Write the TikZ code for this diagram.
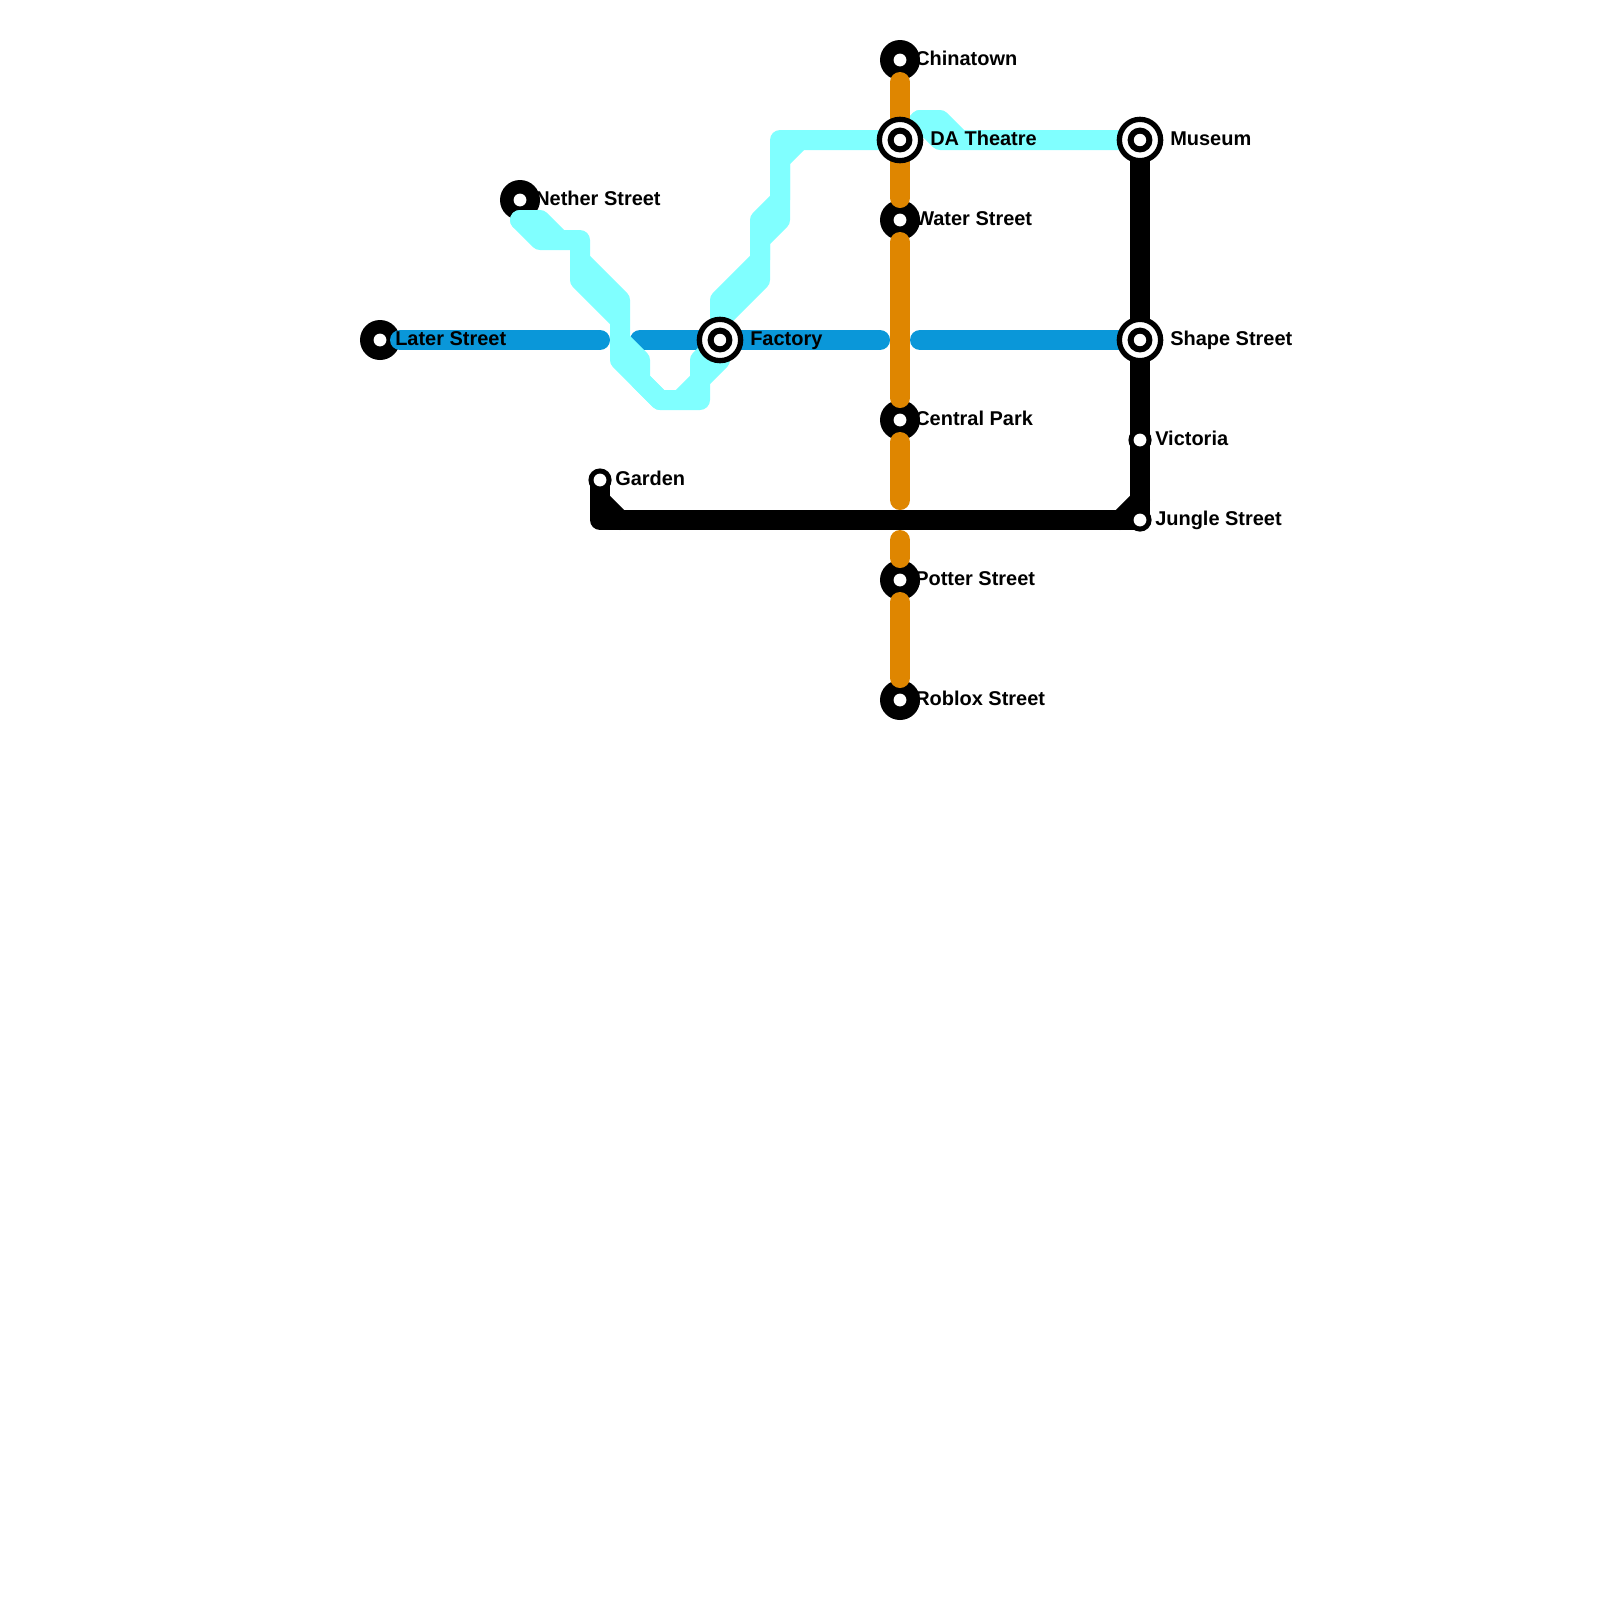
\documentclass[tikz,border=0pt]{standalone}
\usepackage{fontspec}
\setmainfont{Liberation Sans}
\usepackage{xcolor}
\usepackage{tikz}

\definecolor{bluelinecol}{HTML}{0A97D9}
\definecolor{cyanlinecol}{HTML}{80FFFF}
\definecolor{orangelinecol}{HTML}{DF8600}

\tikzset{
  metroline/.style={line width=0.5cm, line cap=round, line join=round},
  blueline/.style={metroline, draw=bluelinecol},
  cyanline/.style={metroline, draw=cyanlinecol},
  orangeline/.style={metroline, draw=orangelinecol},
  blackline/.style={metroline, draw=black},
  bigstop/.style={circle, fill=black, inner sep=0pt, minimum size=1cm},
  smallstop/.style={circle, fill=black, inner sep=0pt, minimum size=0.58cm},
  whitedot/.style={circle, fill=white, inner sep=0pt, minimum size=0.32cm},
  changeouter/.style={circle, draw=black, fill=white, line width=0.1325cm, inner sep=0pt, minimum size=1.0325cm},
  changeinner/.style={circle, draw=black, fill=white, line width=0.15cm, inner sep=0pt, minimum size=0.47cm},
  stoplabel/.style={anchor=base west, inner sep=0pt, font=\fontsize{14.2}{16}\selectfont\bfseries}
}

\begin{document}
\begin{tikzpicture}[x=0.5cm, y=-0.5cm]
\useasboundingbox (0,0) rectangle (80,80);

% Haltes onder de lijnen
\node[bigstop] (later) at (19,17) {};
\node[bigstop] (nether) at (26,10) {};
\node[bigstop] (chinatown) at (45,3) {};
\node[bigstop] (water) at (45,11) {};
\node[bigstop] (central) at (45,21) {};
\node[bigstop] (potter) at (45,29) {};
\node[bigstop] (roblox) at (45,35) {};
\node[smallstop] (garden) at (30,24) {};
\node[smallstop] (victoria) at (57,22) {};
\node[smallstop] (jungle) at (57,26) {};

\coordinate (factory) at (36,17);
\coordinate (theatre) at (45,7);
\coordinate (museum) at (57,7);
\coordinate (shape) at (57,17);

% Knikpunten
\foreach \x/\y in {26/11, 27/11, 27/12, 28/12, 29/12, 29/13, 29/14, 31/15, 31/16, 31/17, 31/18, 32/18,
    32/19, 33/20, 34/20, 35/18, 35/19, 35/20, 36/15, 36/16, 36/18, 38/11, 38/12, 38/13, 38/14,
    39/7, 39/8, 39/10, 39/11, 40/7, 46/6, 47/6, 47/7, 48/7}
  \coordinate (b\x-\y) at (\x,\y);
\foreach \x/\y in {20/17, 30/17, 32/17, 44/17, 46/17, 30/25, 30/26, 31/26, 56/26, 57/25}
  \coordinate (e\x-\y) at (\x,\y);
\foreach \n/\y in {a/4.1, b/9.9, c/12.1, d/19.9, e/22.1, f/25, g/27, h/27.9, i/30.1, j/33.9}
  \coordinate (o\n) at (45,\y);

% Blauwe lijn
\draw[blueline] (e20-17) -- (e30-17);
\draw[blueline] (e32-17) -- (e44-17);
\draw[blueline] (e46-17) -- (shape);

% Zwarte lijn
\draw[blackline] (museum) -- (jungle.center) -- (e30-26) -- (garden.center);
\draw[blackline] (e30-25) -- (e31-26);
\draw[blackline] (e56-26) -- (e57-25);

% Cyaan lijn
\draw[cyanline] (b26-11) -- (b27-11) -- (b28-12) -- (b29-12) -- (b29-14) -- (b31-16) -- (b31-18)
    -- (b33-20) -- (b35-20) -- (b35-18) -- (factory) -- (b36-15) -- (b38-13) -- (b38-11) -- (b39-10)
    -- (b39-7) -- (theatre) -- (b46-6) -- (b47-6) -- (b48-7) -- (museum);
\draw[cyanline] (b26-11) -- (b27-12) -- (b28-12);
\draw[cyanline] (b29-13) -- (b31-15) -- (b31-16);
\draw[cyanline] (b31-17) -- (b32-18) -- (b32-19) -- (b33-20);
\draw[cyanline] (b34-20) -- (b36-18);
\draw[cyanline] (b36-16) -- (b38-14) -- (b38-12) -- (b39-11) -- (b39-8) -- (b40-7);
\draw[cyanline] (b46-6) -- (b47-7) -- (b48-7);

% Oranje lijn
\draw[orangeline] (oa) -- (ob);
\draw[orangeline] (oc) -- (od);
\draw[orangeline] (oe) -- (of);
\draw[orangeline] (og) -- (oh);
\draw[orangeline] (oi) -- (oj);

% Witte stippen
\node[whitedot] (laterdot) at (later) {};
\node[whitedot] (netherdot) at (nether) {};
\node[whitedot] (chinatowndot) at (chinatown) {};
\node[whitedot] (waterdot) at (water) {};
\node[whitedot] (centraldot) at (central) {};
\node[whitedot] (potterdot) at (potter) {};
\node[whitedot] (robloxdot) at (roblox) {};
\node[whitedot] (gardendot) at (garden) {};
\node[whitedot] (victoriadot) at (victoria) {};
\node[whitedot] (jungledot) at (jungle) {};

% Overstappunten
\node[changeouter] (factoryouter) at (factory) {};
\node[changeinner] (factoryinner) at (factory) {};
\node[changeouter] (theatreouter) at (theatre) {};
\node[changeinner] (theatreinner) at (theatre) {};
\node[changeouter] (museumouter) at (museum) {};
\node[changeinner] (museuminner) at (museum) {};
\node[changeouter] (shapeouter) at (shape) {};
\node[changeinner] (shapeinner) at (shape) {};

% Namen
\node[stoplabel] (laterlabel) at (19.75,17.25) {Later Street};
\node[stoplabel] (netherlabel) at (26.75,10.25) {Nether Street};
\node[stoplabel] (gardenlabel) at (30.75,24.25) {Garden};
\node[stoplabel] (factorylabel) at (37.5,17.25) {Factory};
\node[stoplabel] (chinatownlabel) at (45.75,3.25) {Chinatown};
\node[stoplabel] (theatrelabel) at (46.5,7.25) {DA Theatre};
\node[stoplabel] (waterlabel) at (45.75,11.25) {Water Street};
\node[stoplabel] (centrallabel) at (45.75,21.25) {Central Park};
\node[stoplabel] (potterlabel) at (45.75,29.25) {Potter Street};
\node[stoplabel] (robloxlabel) at (45.75,35.25) {Roblox Street};
\node[stoplabel] (museumlabel) at (58.5,7.25) {Museum};
\node[stoplabel] (shapelabel) at (58.5,17.25) {Shape Street};
\node[stoplabel] (victorialabel) at (57.75,22.25) {Victoria};
\node[stoplabel] (junglelabel) at (57.75,26.25) {Jungle Street};

\end{tikzpicture}
\end{document}
